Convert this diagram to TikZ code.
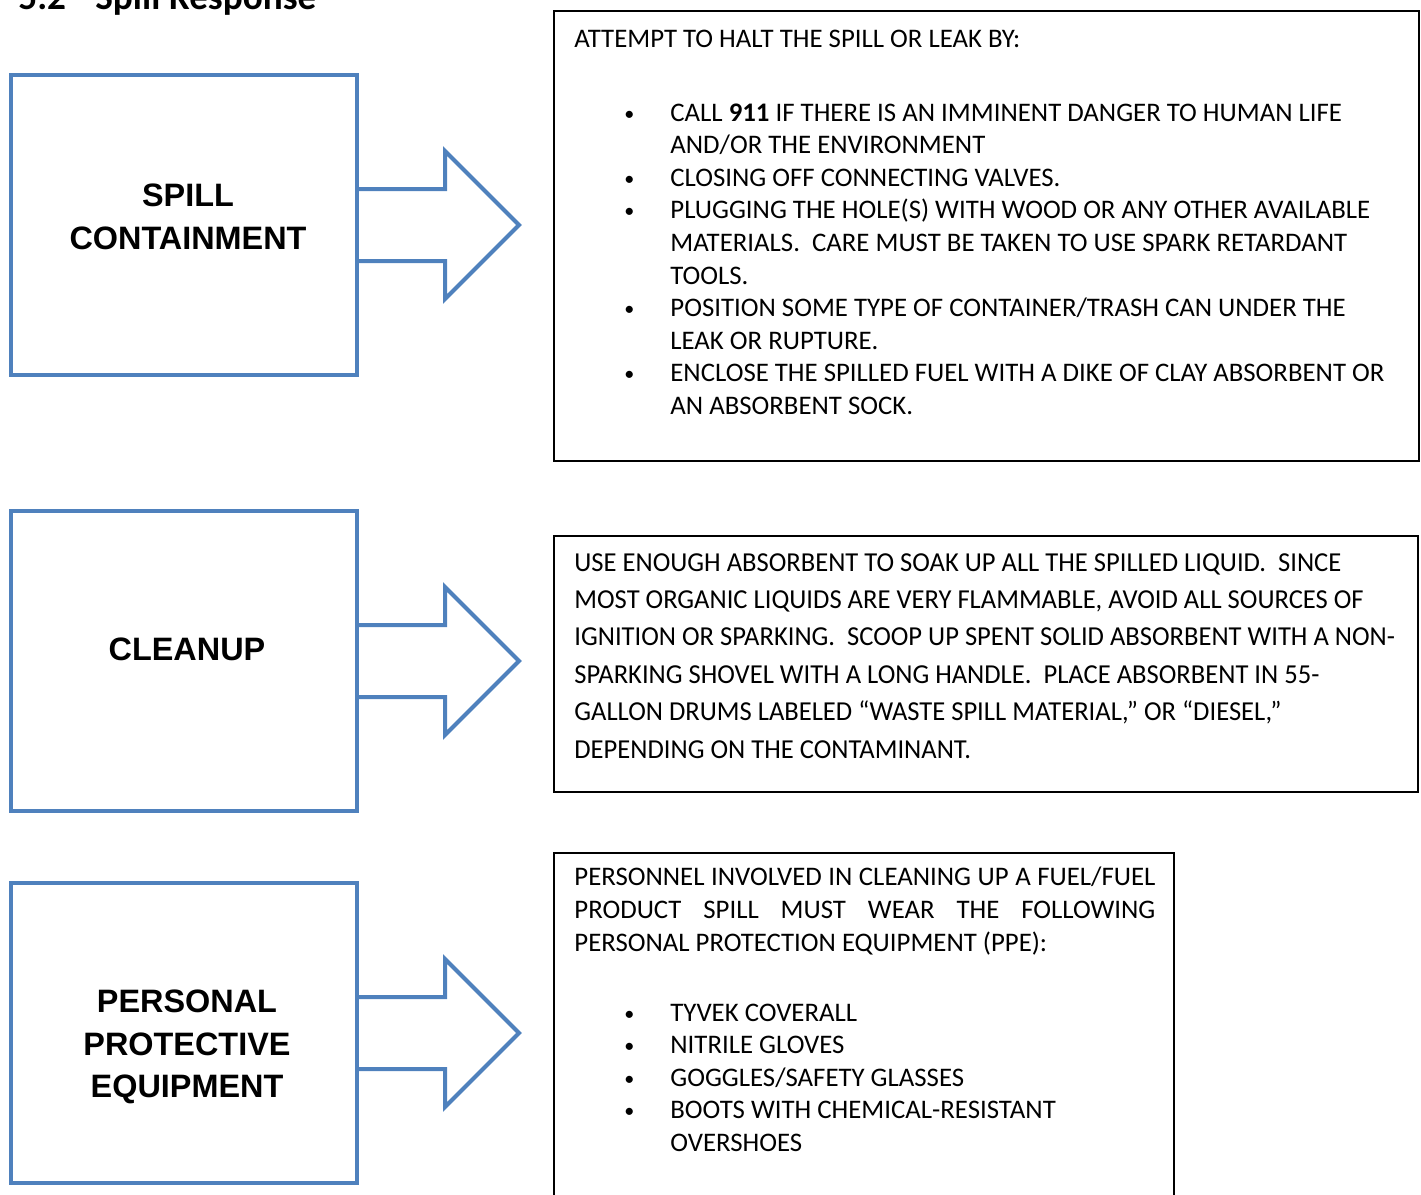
\documentclass[tikz,border=0pt]{standalone}
\usepackage{fontspec}
\setmainfont{Carlito}
\newfontfamily\arialfont{Liberation Sans}
\newfontfamily\condfont[FakeStretch=0.97]{Carlito}
\usetikzlibrary{positioning,calc}
\definecolor{azul}{RGB}{79,129,189}
\tikzstyle{bloque} = [draw=azul, line width=2pt, minimum width=173pt, minimum height=150pt, inner sep=0pt]
\tikzstyle{caja} = [draw=black, line width=1pt, inner sep=0pt]
\tikzstyle{etiqueta} = [align=center, inner sep=0pt, font=\arialfont\bfseries\fontsize{16.2}{21.3}\selectfont]
\tikzstyle{texto} = [anchor=base west, align=left, inner sep=0pt, font=\fontsize{13.4}{16.3}\selectfont]
\tikzstyle{flecha} = [draw=azul, line width=2pt, line join=miter]
\newcommand{\vineta}{\hspace*{25pt}\makebox[23pt][l]{\raisebox{0.5pt}{\scalebox{0.75}{\textbullet}}}}
\newcommand{\sangria}{\hspace*{48pt}}

\begin{document}
\begin{tikzpicture}[x=0.5pt,y=-0.5pt]
	\useasboundingbox (0,0) rectangle (1421,1195);
	
	% Titulo (cortado arriba)
	\node[anchor=base west, inner sep=0pt, font=\bfseries\fontsize{18.6}{20}\selectfont] (num) at (18,9) {5.2};
	\node[anchor=base west, inner sep=0pt, font=\bfseries\fontsize{18.6}{20}\selectfont] (titulo) at (95,9) {Spill Response};
	
	% Bloques azules de la izquierda
	\node[bloque] (contencion) at (184,225) {};
	\node[bloque] (limpieza) at (184,661) {};
	\node[bloque] (equipo) at (184,1033) {};
	
	\node[etiqueta] (lblcontencion) at ($(contencion.center)+(4,-8)$) {SPILL\\CONTAINMENT};
	\node[etiqueta] (lbllimpieza) at ($(limpieza.center)+(3,-12)$) {CLEANUP};
	\node[etiqueta] (lblequipo) at ($(equipo.center)+(3,14)$) {PERSONAL\\PROTECTIVE\\EQUIPMENT};
	
	% Flechas huecas
	\foreach \b in {contencion,limpieza,equipo}{
		\draw[flecha] ($(\b.east)+(0,-36)$) -- ++(86,0) -- ++(0,-38) -- ++(74,74) -- ++(-74,74) -- ++(0,-38) -- ++(-86,0);
	}
	
	% Cajas de texto de la derecha
	\node[caja, minimum width=432.5pt, minimum height=225pt] (cajaA) at (986.5,236) {};
	\node[caja, minimum width=432pt, minimum height=128pt] (cajaB) at (986,664) {};
	\node[caja, minimum width=310pt, minimum height=193.5pt] (cajaC) at (864,1046.5) {};
	
	% (el ancla base es la de la ultima linea)
	\node[texto] (txtA) at (574,414.5) {ATTEMPT TO HALT THE SPILL OR LEAK BY:\\[20.7pt]
		\vineta CALL \textbf{911} IF THERE IS AN IMMINENT DANGER TO HUMAN LIFE\\
		\sangria AND/OR THE ENVIRONMENT\\
		\vineta CLOSING OFF CONNECTING VALVES.\\
		\vineta PLUGGING THE HOLE(S) WITH WOOD OR ANY OTHER AVAILABLE\\
		\sangria MATERIALS.\ \ CARE MUST BE TAKEN TO USE SPARK RETARDANT\\
		\sangria TOOLS.\\
		\vineta POSITION SOME TYPE OF CONTAINER/TRASH CAN UNDER THE\\
		\sangria LEAK OR RUPTURE.\\
		\vineta ENCLOSE THE SPILLED FUEL WITH A DIKE OF CLAY ABSORBENT OR\\
		\sangria AN ABSORBENT SOCK.};
	
	\node[texto, font=\condfont\fontsize{13.7}{18.7}\selectfont] (txtB) at (574,758) {USE ENOUGH ABSORBENT TO SOAK UP ALL THE SPILLED LIQUID.\ \ SINCE\\
		MOST ORGANIC LIQUIDS ARE VERY FLAMMABLE, AVOID ALL SOURCES OF\\
		IGNITION OR SPARKING.\ \ SCOOP UP SPENT SOLID ABSORBENT WITH A NON-\\
		SPARKING SHOVEL WITH A LONG HANDLE.\ \ PLACE ABSORBENT IN 55-\\
		GALLON DRUMS LABELED “WASTE SPILL MATERIAL,” OR “DIESEL,”\\
		DEPENDING ON THE CONTAMINANT.};
	
	\node[texto] (txtC) at (574,1151.5) {\makebox[290.5pt][s]{PERSONNEL INVOLVED IN CLEANING UP A FUEL/FUEL}\\
		\makebox[290.5pt][s]{PRODUCT SPILL MUST WEAR THE FOLLOWING}\\
		PERSONAL PROTECTION EQUIPMENT (PPE):\\[18.7pt]
		\vineta TYVEK COVERALL\\
		\vineta NITRILE GLOVES\\
		\vineta GOGGLES/SAFETY GLASSES\\
		\vineta BOOTS WITH CHEMICAL-RESISTANT\\
		\sangria OVERSHOES};
\end{tikzpicture}
\end{document}
